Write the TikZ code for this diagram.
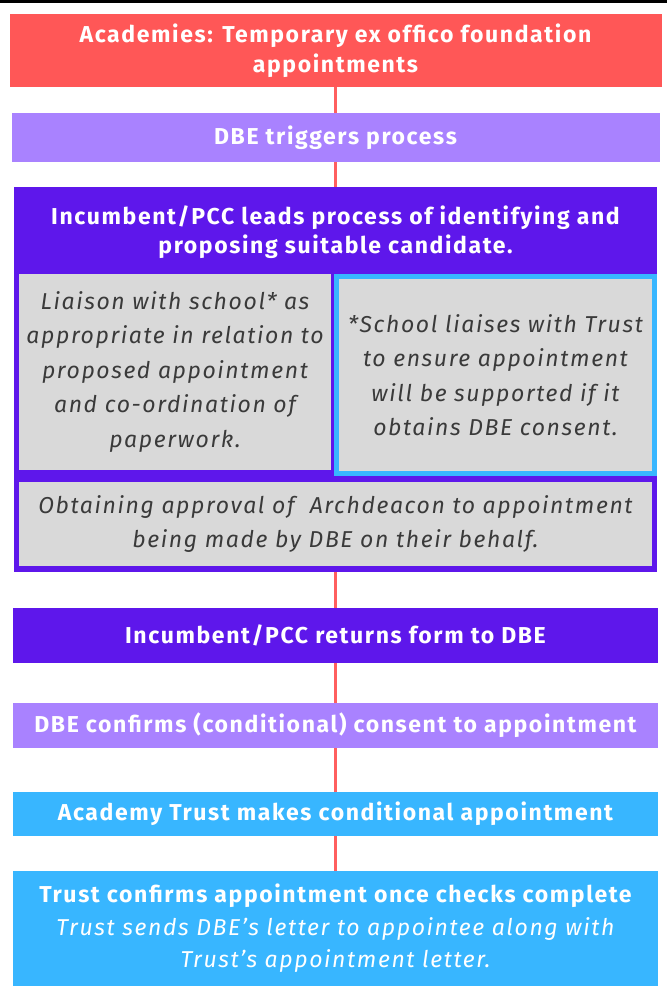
\documentclass[tikz,border=0pt]{standalone}
\usepackage{fontspec}
\setmainfont{Fira Sans}[LetterSpace=7]
\usepackage{xcolor}
\usetikzlibrary{positioning,calc}

\definecolor{dbered}{HTML}{FF5757}
\definecolor{dbelilac}{HTML}{A982FF}
\definecolor{dbeviolet}{HTML}{5E17EB}
\definecolor{dbesky}{HTML}{38B6FF}
\definecolor{notefill}{HTML}{D9D9D9}
\definecolor{notetext}{HTML}{3A3A3A}
\definecolor{linkred}{HTML}{FF5F5F}

\begin{document}
\begin{tikzpicture}[
  x=1pt, y=-1pt,
  every node/.style={inner sep=0pt, outer sep=0pt},
  stage/.style={rectangle, minimum width=645pt, align=center, text=white,
                font=\bfseries\fontsize{23}{30}\selectfont},
  note/.style={rectangle, fill=notefill, align=center, text=notetext,
               font=\itshape\fontsize{23}{34.5}\selectfont},
  link/.style={draw=linkred, line width=3pt}
]
\useasboundingbox (0,0) rectangle (667,986);
\fill[black] (0,0) rectangle (667,3);

\node[stage, fill=dbered, minimum width=652pt, minimum height=73pt] (head) at (335.5,50.5)
      {Academies: Temporary ex offico foundation\\ appointments};
\node[stage, fill=dbelilac, minimum width=648pt, minimum height=49pt, below=26pt of head] (trigger)
      {DBE triggers process};
\node[stage, fill=dbeviolet, minimum width=643pt, minimum height=385pt, below=25pt of trigger] (lead) {};
\node[stage, font=\bfseries\fontsize{23}{29}\selectfont] (leadtxt) at ([yshift=-45.5pt]lead.north)
      {Incumbent/PCC leads process of identifying and\\ proposing suitable candidate.};
\node[note, minimum width=312pt, minimum height=196pt, anchor=north west] (liaison)
      at ([xshift=5pt, yshift=-87pt]lead.north west)
      {Liaison with school* as\\ appropriate in relation to\\ proposed appointment\\
       and co-ordination of\\ paperwork.};
\node[note, draw=dbesky, line width=5pt, minimum width=318pt, minimum height=197pt, anchor=north east] (school)
      at ([xshift=-2.5pt, yshift=-89.5pt]lead.north east)
      {*School liaises with Trust\\ to ensure appointment\\ will be supported if it\\ obtains DBE consent.};
\node[note, minimum width=633pt, minimum height=84pt, anchor=south west] (obtain)
      at ([xshift=5pt, yshift=6pt]lead.south west)
      {Obtaining approval of~ Archdeacon to appointment\\ being made by DBE on their behalf.};
\node[stage, fill=dbeviolet, minimum height=55pt, below=36pt of lead] (returns)
      {Incumbent/PCC returns form to DBE};
\node[stage, fill=dbelilac, minimum height=45pt, below=40pt of returns] (consent)
      {DBE confirms (conditional) consent to appointment};
\node[stage, fill=dbesky, minimum height=44pt, below=44pt of consent] (appoint)
      {Academy Trust makes conditional appointment};
\node[stage, fill=dbesky, minimum height=115pt, below=35pt of appoint,
      font=\bfseries\fontsize{23}{32.5}\selectfont] (confirm)
      {Trust confirms appointment once checks complete\\
       \mdseries\itshape Trust sends DBE's letter to appointee along with\\
       \mdseries\itshape Trust's appointment letter.};

\draw[link] (head) -- (trigger);
\draw[link] (trigger) -- (lead);
\draw[link] (lead) -- (returns);
\draw[link] (returns) -- (consent);
\draw[link] (consent) -- (appoint);
\draw[link] (appoint) -- (confirm);
\end{tikzpicture}
\end{document}
